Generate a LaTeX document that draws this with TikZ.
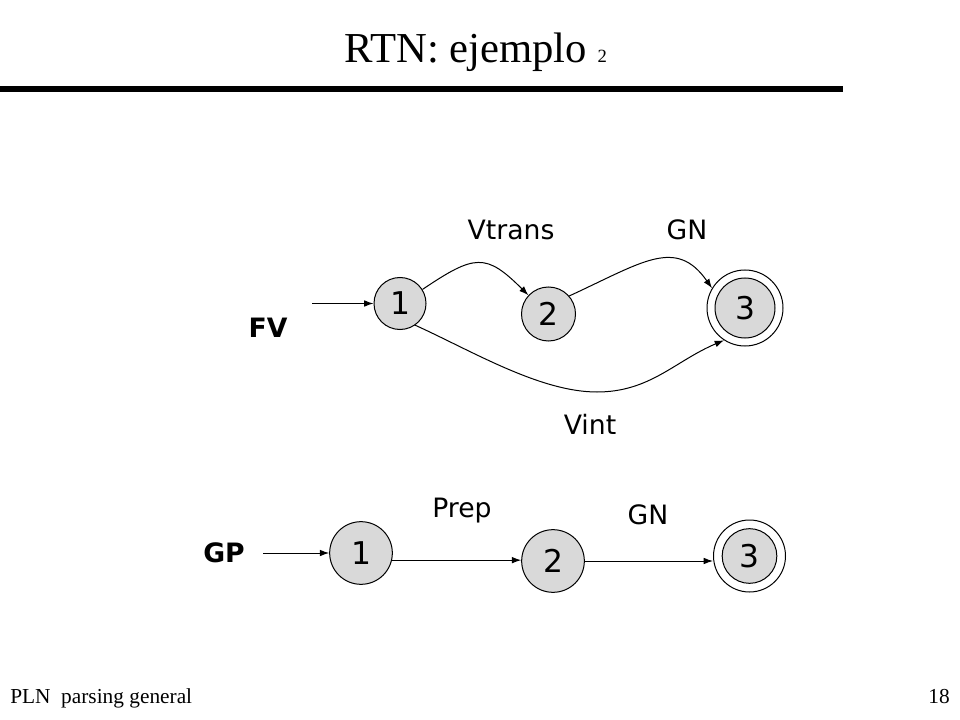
\documentclass[tikz,border=0pt]{standalone}
\usepackage{fontspec}
\setmainfont{Liberation Serif}
\newfontfamily\lab{DejaVu Sans}
\usetikzlibrary{arrows.meta}
\definecolor{nodegray}{RGB}{217,217,217}
\begin{document}
\begin{tikzpicture}[x=0.75pt,y=-0.75pt,
  state/.style={circle,draw=black,line width=0.75pt,fill=nodegray,inner sep=0pt,font=\lab\fontsize{23.5}{28}\selectfont},
  ring/.style={circle,draw=black,line width=0.75pt,fill=white,inner sep=0pt},
  lbl/.style={font=\lab\fontsize{20}{24}\selectfont,inner sep=0pt},
  netname/.style={font=\lab\bfseries\fontsize{20}{24}\selectfont,inner sep=0pt},
  edge/.style={line width=0.75pt,-{Latex[length=7pt,width=5pt]}}]
\useasboundingbox[fill=white] (0,0) rectangle (960,720);

% title and rule
\node[anchor=base west,inner sep=0pt,font=\fontsize{32}{38}\selectfont] (title) at (344,63) {RTN: ejemplo {\fontsize{14}{16}\selectfont 2}};
\coordinate (r1) at (0,89);
\coordinate (r2) at (843,89);
\draw[line width=4.5pt] (r1) -- (r2);

% top network FV
\node[state,minimum size=39pt] (t1) at (400,303.5) {1};
\node[state,minimum size=40.5pt] (t2) at (548.5,314) {2};
\node[ring,minimum size=57pt] (t3) at (745,308) {};
\node[state,minimum size=45pt] (t3i) at (t3) {3};
\coordinate (in1) at (312,303.5);
\draw[edge] (in1) -- (t1);
\draw[edge] (t1.32) .. controls (475,254) and (486,253) .. (t2.137);
\draw[edge] (t2.41) .. controls (643,262) and (676,237) .. (t3.149);
\coordinate (vb) at (597,392);
\draw[edge] (t1.-55) .. controls (472,351) and (540,392) .. (vb) .. controls (650,392) and (675,361) .. (t3.-123);
\node[lbl] (lvt) at (511,230) {Vtrans};
\node[lbl] (lgn1) at (687,230) {GN};
\node[lbl] (lvi) at (590,424) {Vint};
\node[netname] (fv) at (268,328) {FV};

% bottom network GP
\node[state,minimum size=47pt] (b1) at (361,553) {1};
\node[state,minimum size=47pt] (b2) at (553,561) {2};
\node[ring,minimum size=54pt] (b3) at (749.5,556) {};
\node[state,minimum size=41pt] (b3i) at (b3) {3};
\coordinate (in2) at (263,553);
\draw[edge] (in2) -- (b1);
\draw[edge] (b1.-13) -- (b1.-13 -| b2.west);
\draw[edge] (b2.east) -- (b2.east -| b3.west);
\node[lbl] (lprep) at (462,511) {Prep};
\node[lbl] (lgn2) at (648,515) {GN};
\node[netname] (gp) at (224,553) {GP};

% footer
\node[anchor=base west,inner sep=0pt,font=\fontsize{16}{18}\selectfont] (foot) at (10,703) {PLN\ \ parsing general};
\node[anchor=base east,inner sep=0pt,font=\fontsize{16}{18}\selectfont] (pg) at (950,703) {18};
\end{tikzpicture}
\end{document}
